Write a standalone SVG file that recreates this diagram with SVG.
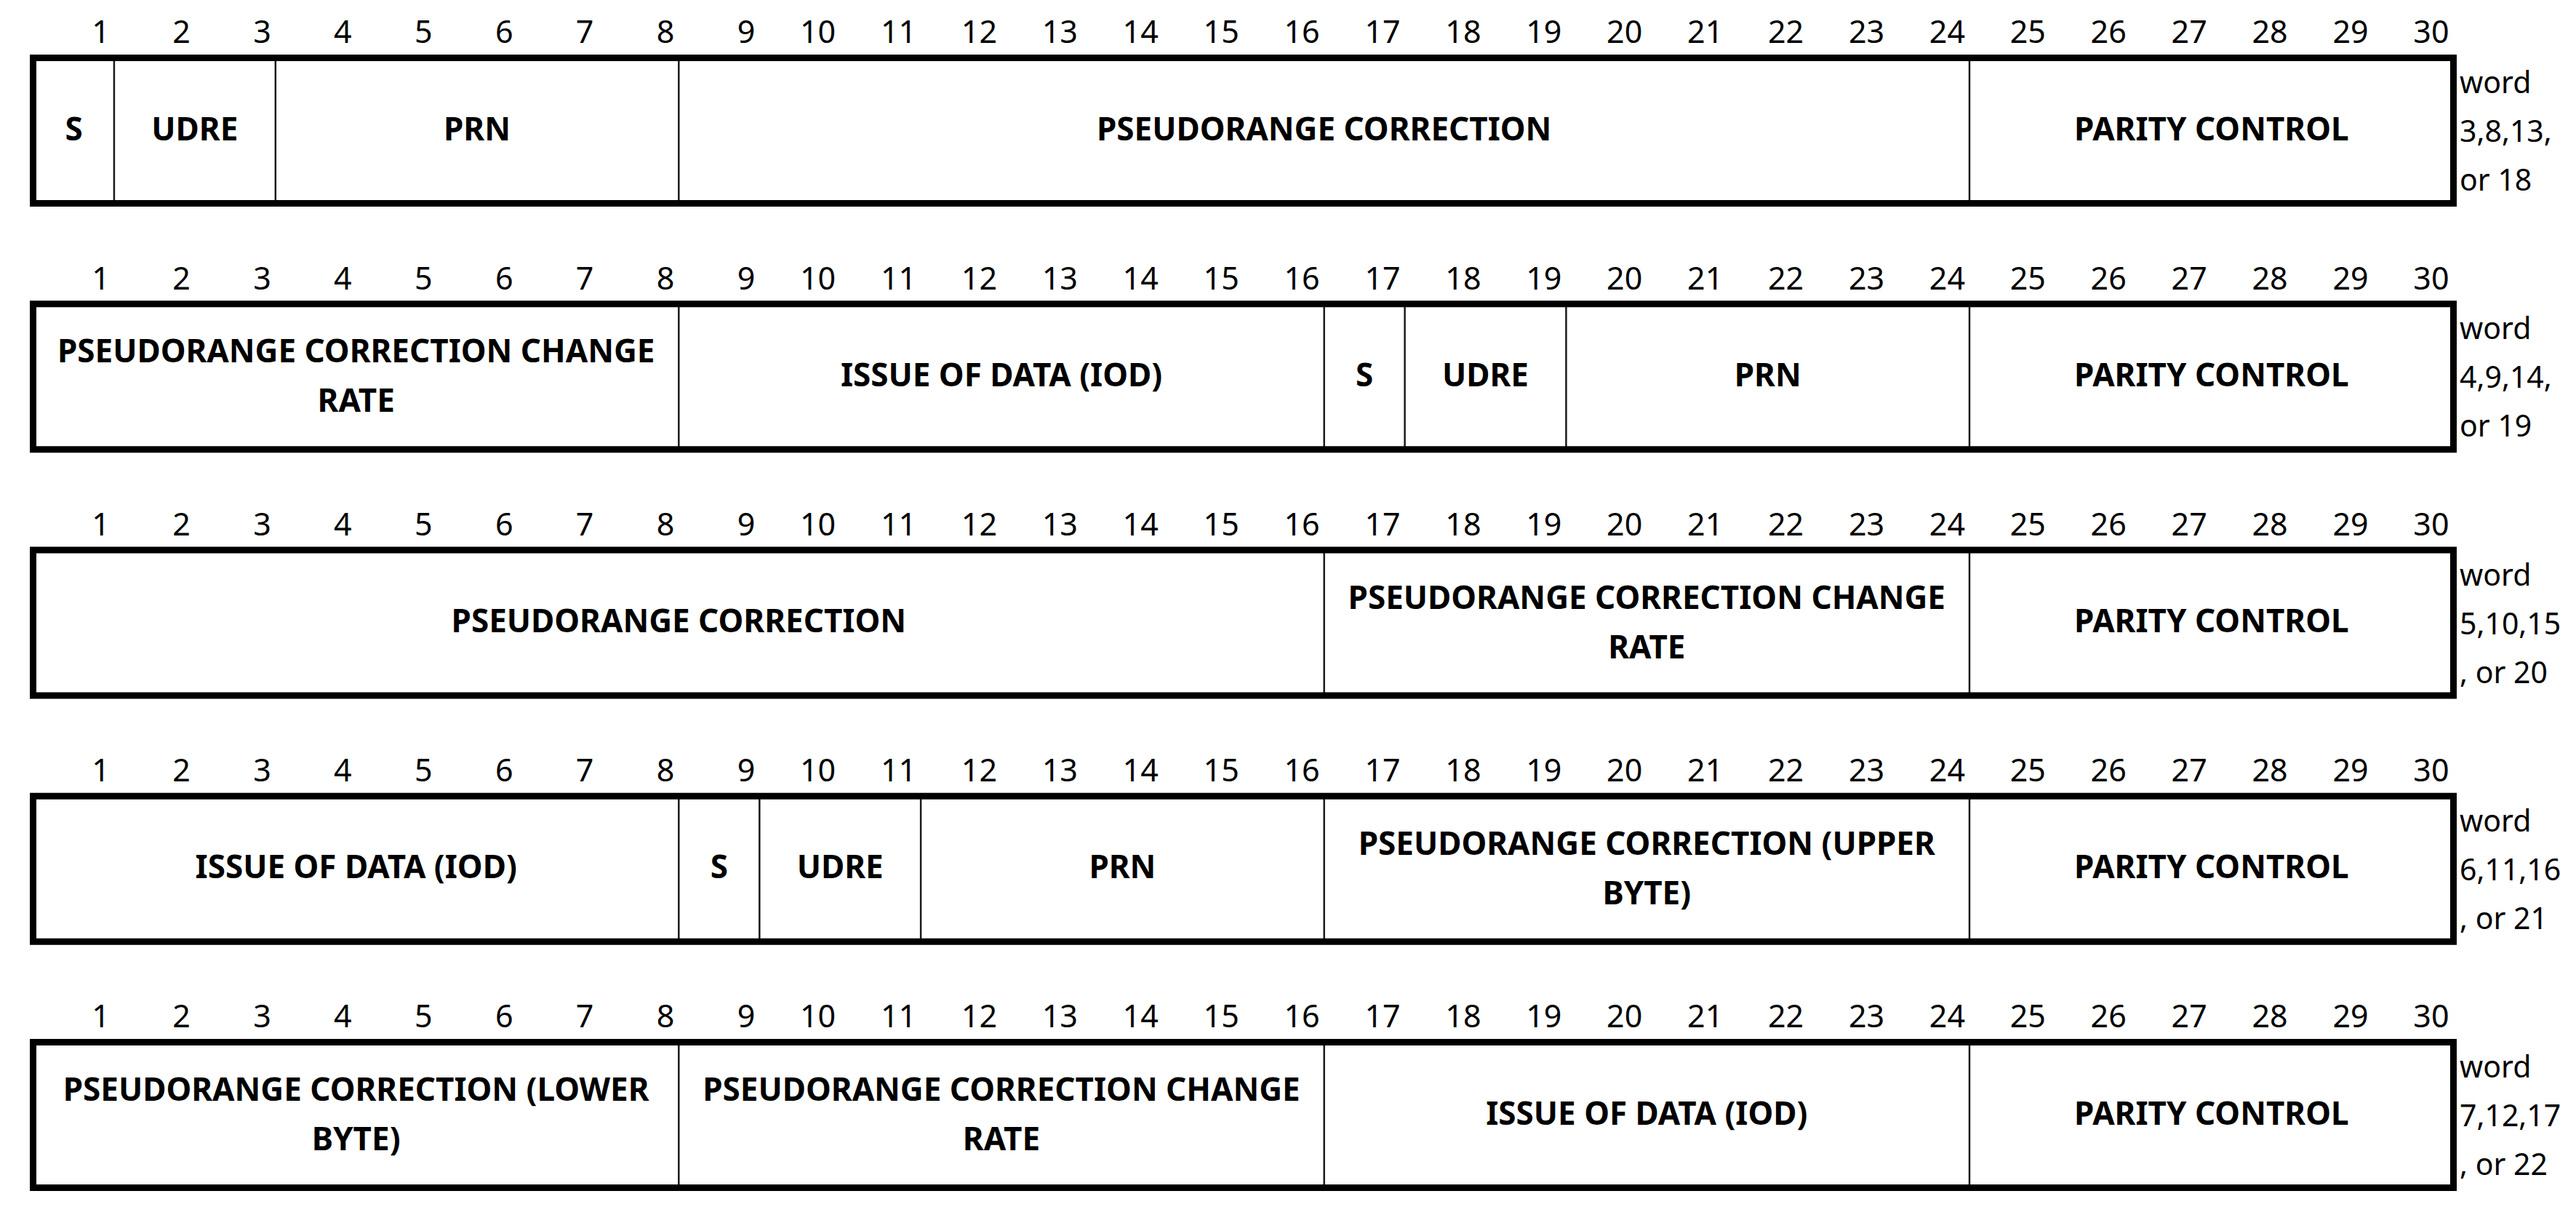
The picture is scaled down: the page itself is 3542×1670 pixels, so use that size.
<svg xmlns="http://www.w3.org/2000/svg" width="3542" height="1670" viewBox="0 0 3542 1670">
<style>
.bg{fill:#fff}
.frame{fill:none;stroke:#000;stroke-width:9}
.div{stroke:#1a1a1a;stroke-width:2.5}
.num{font-family:"Noto Sans","Open Sans",sans-serif;font-size:43px;fill:#000;text-anchor:end}
.lbl{font-family:"Noto Sans","Open Sans",sans-serif;font-size:44px;font-weight:bold;fill:#000;text-anchor:middle}
.word{font-family:"Noto Sans","Open Sans",sans-serif;font-size:41px;fill:#000}
</style>
<defs>
<g id="bits">
<text class="num" x="150.9" y="59.3">1</text><text class="num" x="261.8" y="59.3">2</text><text class="num" x="372.8" y="59.3">3</text><text class="num" x="483.7" y="59.3">4</text><text class="num" x="594.6" y="59.3">5</text><text class="num" x="705.5" y="59.3">6</text><text class="num" x="816.4" y="59.3">7</text><text class="num" x="927.3" y="59.3">8</text><text class="num" x="1038.3" y="59.3">9</text><text class="num" x="1149.2" y="59.3">10</text><text class="num" x="1260.1" y="59.3">11</text><text class="num" x="1371" y="59.3">12</text><text class="num" x="1481.9" y="59.3">13</text><text class="num" x="1592.8" y="59.3">14</text><text class="num" x="1703.8" y="59.3">15</text><text class="num" x="1814.7" y="59.3">16</text><text class="num" x="1925.6" y="59.3">17</text><text class="num" x="2036.5" y="59.3">18</text><text class="num" x="2147.4" y="59.3">19</text><text class="num" x="2258.3" y="59.3">20</text><text class="num" x="2369.3" y="59.3">21</text><text class="num" x="2480.2" y="59.3">22</text><text class="num" x="2591.1" y="59.3">23</text><text class="num" x="2702" y="59.3">24</text><text class="num" x="2812.9" y="59.3">25</text><text class="num" x="2923.8" y="59.3">26</text><text class="num" x="3034.8" y="59.3">27</text><text class="num" x="3145.7" y="59.3">28</text><text class="num" x="3256.6" y="59.3">29</text><text class="num" x="3367.5" y="59.3">30</text>
</g>
</defs>
<rect class="bg" x="0" y="0" width="3542" height="1670"/>

<g id="word3" transform="translate(0,0)">
<use href="#bits"/>
<line class="div" x1="156.9" y1="80" x2="156.9" y2="279"/>
<line class="div" x1="378.8" y1="80" x2="378.8" y2="279"/>
<line class="div" x1="933.3" y1="80" x2="933.3" y2="279"/>
<line class="div" x1="2708" y1="80" x2="2708" y2="279"/>
<rect class="frame" x="45.5" y="79.5" width="3328" height="200"/>
<text class="lbl" x="101.5" y="192.7">S</text>
<text class="lbl" x="267.8" y="192.7">UDRE</text>
<text class="lbl" x="656" y="192.7">PRN</text>
<text class="lbl" x="1820.7" y="192.7">PSEUDORANGE CORRECTION</text>
<text class="lbl" x="3040.8" y="192.7">PARITY CONTROL</text>
<text class="word" x="3382" y="128">word</text>
<text class="word" x="3382" y="195">3,8,13,</text>
<text class="word" x="3382" y="262">or 18</text>
</g>

<g id="word4" transform="translate(0,338.25)">
<use href="#bits"/>
<line class="div" x1="933.3" y1="80" x2="933.3" y2="279"/>
<line class="div" x1="1820.7" y1="80" x2="1820.7" y2="279"/>
<line class="div" x1="1931.6" y1="80" x2="1931.6" y2="279"/>
<line class="div" x1="2153.4" y1="80" x2="2153.4" y2="279"/>
<line class="div" x1="2708" y1="80" x2="2708" y2="279"/>
<rect class="frame" x="45.5" y="79.5" width="3328" height="200"/>
<text class="lbl" x="489.7" y="160">PSEUDORANGE CORRECTION CHANGE</text>
<text class="lbl" x="489.7" y="228">RATE</text>
<text class="lbl" x="1377" y="192.7">ISSUE OF DATA (IOD)</text>
<text class="lbl" x="1876.2" y="192.7">S</text>
<text class="lbl" x="2042.5" y="192.7">UDRE</text>
<text class="lbl" x="2430.7" y="192.7">PRN</text>
<text class="lbl" x="3040.8" y="192.7">PARITY CONTROL</text>
<text class="word" x="3382" y="128">word</text>
<text class="word" x="3382" y="195">4,9,14,</text>
<text class="word" x="3382" y="262">or 19</text>
</g>

<g id="word5" transform="translate(0,676.5)">
<use href="#bits"/>
<line class="div" x1="1820.7" y1="80" x2="1820.7" y2="279"/>
<line class="div" x1="2708" y1="80" x2="2708" y2="279"/>
<rect class="frame" x="45.5" y="79.5" width="3328" height="200"/>
<text class="lbl" x="933.3" y="192.7">PSEUDORANGE CORRECTION</text>
<text class="lbl" x="2264.3" y="160">PSEUDORANGE CORRECTION CHANGE</text>
<text class="lbl" x="2264.3" y="228">RATE</text>
<text class="lbl" x="3040.8" y="192.7">PARITY CONTROL</text>
<text class="word" x="3382" y="128">word</text>
<text class="word" x="3382" y="195">5,10,15</text>
<text class="word" x="3382" y="262">, or 20</text>
</g>

<g id="word6" transform="translate(0,1014.75)">
<use href="#bits"/>
<line class="div" x1="933.3" y1="80" x2="933.3" y2="279"/>
<line class="div" x1="1044.3" y1="80" x2="1044.3" y2="279"/>
<line class="div" x1="1266.1" y1="80" x2="1266.1" y2="279"/>
<line class="div" x1="1820.7" y1="80" x2="1820.7" y2="279"/>
<line class="div" x1="2708" y1="80" x2="2708" y2="279"/>
<rect class="frame" x="45.5" y="79.5" width="3328" height="200"/>
<text class="lbl" x="489.7" y="192.7">ISSUE OF DATA (IOD)</text>
<text class="lbl" x="988.8" y="192.7">S</text>
<text class="lbl" x="1155.2" y="192.7">UDRE</text>
<text class="lbl" x="1543.4" y="192.7">PRN</text>
<text class="lbl" x="2264.3" y="160">PSEUDORANGE CORRECTION (UPPER</text>
<text class="lbl" x="2264.3" y="228">BYTE)</text>
<text class="lbl" x="3040.8" y="192.7">PARITY CONTROL</text>
<text class="word" x="3382" y="128">word</text>
<text class="word" x="3382" y="195">6,11,16</text>
<text class="word" x="3382" y="262">, or 21</text>
</g>

<g id="word7" transform="translate(0,1353)">
<use href="#bits"/>
<line class="div" x1="933.3" y1="80" x2="933.3" y2="279"/>
<line class="div" x1="1820.7" y1="80" x2="1820.7" y2="279"/>
<line class="div" x1="2708" y1="80" x2="2708" y2="279"/>
<rect class="frame" x="45.5" y="79.5" width="3328" height="200"/>
<text class="lbl" x="489.7" y="160">PSEUDORANGE CORRECTION (LOWER</text>
<text class="lbl" x="489.7" y="228">BYTE)</text>
<text class="lbl" x="1377" y="160">PSEUDORANGE CORRECTION CHANGE</text>
<text class="lbl" x="1377" y="228">RATE</text>
<text class="lbl" x="2264.3" y="192.7">ISSUE OF DATA (IOD)</text>
<text class="lbl" x="3040.8" y="192.7">PARITY CONTROL</text>
<text class="word" x="3382" y="128">word</text>
<text class="word" x="3382" y="195">7,12,17</text>
<text class="word" x="3382" y="262">, or 22</text>
</g>
<g id="connectors"/>
</svg>
